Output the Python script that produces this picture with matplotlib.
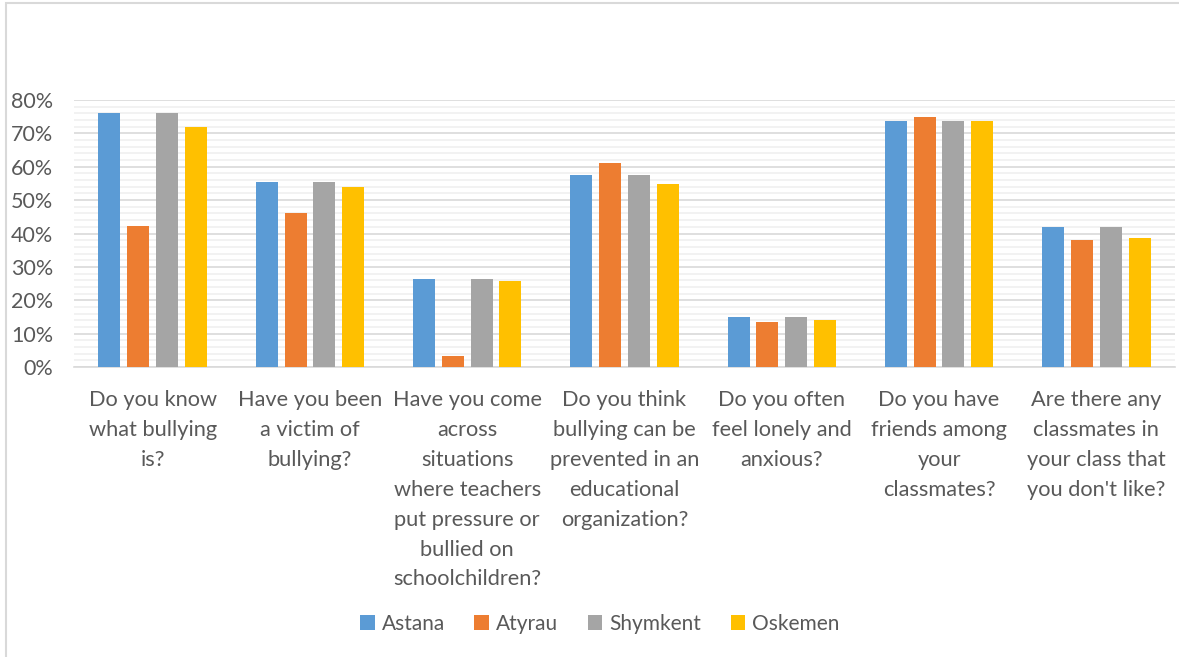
import matplotlib
matplotlib.use("Agg")
import matplotlib.pyplot as plt
from matplotlib.patches import Rectangle
from matplotlib.ticker import MultipleLocator, PercentFormatter
import numpy as np

plt.rcParams['font.family'] = ['Lato', 'DejaVu Sans']

questions = [
    "Do you know\nwhat bullying\nis?",
    "Have you been\na victim of\nbullying?",
    "Have you come\nacross\nsituations\nwhere teachers\nput pressure or\nbullied on\nschoolchildren?",
    "Do you think\nbullying can be\nprevented in an\neducational\norganization?",
    "Do you often\nfeel lonely and\nanxious?",
    "Do you have\nfriends among\nyour\nclassmates?",
    "Are there any\nclassmates in\nyour class that\nyou don't like?",
]
cities = ["Astana", "Atyrau", "Shymkent", "Oskemen"]
colors = ["#5B9BD5", "#ED7D31", "#A5A5A5", "#FFC000"]

astana = [76.0, 55.3, 26.3, 57.5, 15.1, 73.7, 42.0]
atyrau = [42.3, 46.1, 3.3, 61.1, 13.5, 74.9, 38.0]
shymkent = [76.0, 55.3, 26.3, 57.5, 15.1, 73.7, 42.0]
oskemen = [71.8, 54.0, 25.9, 54.8, 14.2, 73.7, 38.8]
series = [astana, atyrau, shymkent, oskemen]

W, H = 1179, 657
fig = plt.figure(figsize=(W / 100, H / 100), dpi=100)
fig.patch.set_facecolor("white")

# chart frame
fig.patches.append(Rectangle((6 / W, -0.1), 1.2, (H - 3) / H + 0.1,
                             transform=fig.transFigure, fill=False,
                             edgecolor="#d9d9d9", linewidth=1.5, zorder=0))

left, right, top, bottom = 74, 1175, 100, 367
ax = fig.add_axes([left / W, 1 - bottom / H, (right - left) / W, (bottom - top) / H])

x = np.arange(len(questions))
pitch = 0.183
width = 0.14
for i, (vals, c, name) in enumerate(zip(series, colors, cities)):
    ax.bar(x + (i - 1.5) * pitch, np.array(vals) / 100, width=width, color=c,
           label=name, zorder=3)

ax.set_xlim(-0.5, len(questions) - 0.5)
ax.set_ylim(0, 0.8)
ax.yaxis.set_major_locator(MultipleLocator(0.1))
ax.yaxis.set_minor_locator(MultipleLocator(0.02))
ax.yaxis.set_major_formatter(PercentFormatter(1.0, decimals=0))
ax.grid(axis="y", which="major", color="#d9d9d9", linewidth=1.2, zorder=1)
ax.grid(axis="y", which="minor", color="#f0f0f0", linewidth=1.2, zorder=0)
for s in ["top", "right", "left"]:
    ax.spines[s].set_visible(False)
ax.spines["bottom"].set_color("#d9d9d9")
ax.spines["bottom"].set_linewidth(1.2)
ax.tick_params(axis="both", which="both", length=0, colors="#595959")
ax.tick_params(axis="y", labelsize=15.5, pad=15)
ax.tick_params(axis="x", labelsize=15.7, pad=16.5)
ax.set_xticks(x)
ax.set_xticklabels(questions, linespacing=1.62)

leg = fig.legend(loc="center", bbox_to_anchor=(600 / W, 1 - 624 / H), ncol=4,
                 frameon=False, fontsize=15, handlelength=0.7, handleheight=0.7,
                 handletextpad=0.35, columnspacing=1.4, labelcolor="#595959")

fig.savefig("out.png", dpi=100, facecolor="white")
